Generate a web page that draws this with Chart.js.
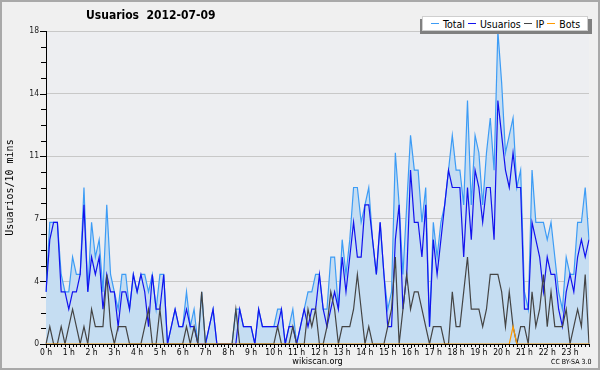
<!DOCTYPE html>
<html lang="es">
<head>
<meta charset="UTF-8">
<title>Usuarios 2012-07-09</title>
<script src="https://cdn.jsdelivr.net/npm/chart.js"></script>
<style>
  html, body { margin: 0; padding: 0; background: #f0f0f0; }
  #wrap { position: relative; width: 600px; height: 370px; font-family: "DejaVu Sans Condensed", "DejaVu Sans", sans-serif; }
  #frame { position: absolute; left: 0; top: 0; width: 600px; height: 370px; box-sizing: border-box;
           border: 2px solid #a9a9a9; pointer-events: none; }
  #title { position: absolute; left: 86px; top: 8px; font-size: 12px; font-weight: bold; color: #000; white-space: pre; }
  #legend-shadow { position: absolute; left: 420px; top: 19px; width: 172px; height: 15px; background: #808080; }
  #legend { position: absolute; left: 422px; top: 16px; width: 166px; height: 15px; background: #fff;
            border: 1px solid #cfcfcf; display: flex; align-items: center;
            font-size: 10.5px; color: #000; padding-left: 8px; box-sizing: border-box; white-space: nowrap; }
  #legend span { display: inline-flex; align-items: center; margin-right: 3px; }
  #legend i { display: inline-block; width: 8px; height: 1px; margin-right: 4px; }
  #cc { position: absolute; left: 551px; top: 358px; font-size: 7px; color: #000; }
</style>
</head>
<body>
<div id="wrap">
  <canvas id="chart" width="600" height="370"></canvas>
  <div id="title"></div>
  <div id="legend-shadow"></div>
  <div id="legend"></div>
  <div id="cc">CC BY-SA 3.0</div>
  <div id="frame"></div>
</div>

<script>
  const chartTitle = 'Usuarios  2012-07-09';
  const hourLabels = ['0 h', '1 h', '2 h', '3 h', '4 h', '5 h', '6 h', '7 h', '8 h', '9 h', '10 h', '11 h',
                      '12 h', '13 h', '14 h', '15 h', '16 h', '17 h', '18 h', '19 h', '20 h', '21 h', '22 h', '23 h'];
  const minuteLabels = ['00', '10', '20', '30', '40', '50'];
  const yTicks = [0, 3.6, 7.2, 10.8, 14.4, 18];
  const seriesNames = ['Total', 'Usuarios', 'IP', 'Bots'];

  // one value every 10 minutes, 144 per day
  const totalVals = [
    3, 7, 7, 7, 4, 3, 3, 5, 4, 4, 9, 3, 7, 5, 6, 3, 8, 4, 3, 2, 4, 4, 2, 4,
    3, 4, 4, 3, 4, 2, 4, 4, 0, 1, 2, 1, 1, 3, 1, 2, 0, 3, 0, 1, 2, 0, 0, 0,
    0, 0, 2, 2, 1, 1, 1, 0, 2, 1, 1, 1, 1, 2, 2, 0, 1, 2, 0, 1, 2, 3, 3, 4,
    4, 2, 2, 5, 5, 2, 6, 4, 6, 9, 9, 7, 8, 9, 6, 4, 7, 4, 2, 3, 11, 8, 4, 8,
    12, 10, 10, 7, 9, 1, 7, 5, 7, 8, 10, 12, 10, 10, 8, 14, 8, 12, 11, 8, 11, 13, 10, 18,
    15, 11, 12, 13, 9, 10, 3, 2, 10, 7, 7, 7, 6, 7, 5, 3, 2, 5, 4, 4, 7, 7, 9, 6
  ];
  const usuariosVals = [
    3, 6, 7, 7, 3, 3, 2, 3, 3, 4, 8, 3, 5, 4, 5, 2, 4, 3, 3, 1, 3, 3, 2, 4,
    3, 4, 3, 1, 4, 2, 2, 4, 0, 1, 2, 1, 1, 2, 1, 1, 0, 0, 0, 1, 2, 0, 0, 0,
    0, 0, 0, 2, 1, 1, 1, 0, 2, 1, 1, 1, 1, 1, 2, 0, 1, 1, 0, 1, 2, 1, 2, 2,
    4, 2, 1, 2, 3, 2, 5, 3, 5, 7, 5, 5, 8, 8, 6, 4, 7, 4, 1, 1, 6, 8, 2, 4,
    10, 7, 7, 5, 8, 1, 6, 4, 6, 8, 10, 9, 9, 9, 5, 9, 6, 10, 9, 7, 9, 9, 6, 14,
    12, 10, 9, 11, 9, 9, 2, 2, 7, 6, 5, 3, 5, 4, 4, 2, 1, 3, 4, 3, 5, 6, 5, 6
  ];
  const ipVals = [
    0, 1, 0, 0, 1, 0, 1, 2, 1, 0, 1, 0, 2, 1, 1, 1, 4, 1, 0, 1, 1, 1, 0, 0,
    0, 0, 1, 2, 0, 0, 2, 0, 0, 0, 0, 0, 0, 1, 0, 1, 0, 3, 0, 0, 0, 0, 0, 0,
    0, 0, 2, 0, 0, 0, 0, 0, 0, 0, 0, 0, 0, 1, 0, 0, 0, 1, 0, 0, 0, 2, 1, 2,
    0, 0, 1, 3, 2, 0, 1, 1, 1, 2, 4, 2, 0, 1, 0, 0, 0, 0, 1, 2, 5, 0, 2, 4,
    2, 3, 3, 2, 1, 0, 1, 1, 1, 0, 0, 3, 1, 1, 3, 5, 2, 2, 2, 1, 2, 4, 4, 4,
    3, 1, 3, 1, 0, 1, 1, 0, 3, 1, 2, 4, 1, 3, 1, 1, 1, 2, 0, 1, 2, 1, 4, 0
  ];
  const botsVals = [
    0, 0, 0, 0, 0, 0, 0, 0, 0, 0, 0, 0, 0, 0, 0, 0, 0, 0, 0, 0, 0, 0, 0, 0,
    0, 0, 0, 0, 0, 0, 0, 0, 0, 0, 0, 0, 0, 0, 0, 0, 0, 0, 0, 0, 0, 0, 0, 0,
    0, 0, 0, 0, 0, 0, 0, 0, 0, 0, 0, 0, 0, 0, 0, 0, 0, 0, 0, 0, 0, 0, 0, 0,
    0, 0, 0, 0, 0, 0, 0, 0, 0, 0, 0, 0, 0, 0, 0, 0, 0, 0, 0, 0, 0, 0, 0, 0,
    0, 0, 0, 0, 0, 0, 0, 0, 0, 0, 0, 0, 0, 0, 0, 0, 0, 0, 0, 0, 0, 0, 0, 0,
    0, 0, 0, 1, 0, 0, 0, 0, 0, 0, 0, 0, 0, 0, 0, 0, 0, 0, 0, 0, 0, 0, 0, 0
  ];

  const colors = ['#3d9cf5', '#1212ee', '#444444', '#ff9a00'];
  const condensed = "'DejaVu Sans Condensed', 'DejaVu Sans'";

  const slots = [];
  hourLabels.forEach((h, hi) => minuteLabels.forEach(m => slots.push(hi + ':' + m)));

  document.getElementById('title').textContent = chartTitle;
  const legendEl = document.getElementById('legend');
  seriesNames.forEach((name, i) => {
    const s = document.createElement('span');
    s.innerHTML = '<i style="background:' + colors[i] + '"></i>' + name;
    legendEl.appendChild(s);
  });

  // plot background + tick marks like the original
  const decor = {
    id: 'decor',
    beforeDraw(chart) {
      const { ctx, chartArea: a } = chart;
      ctx.save();
      ctx.fillStyle = '#edeef1';
      ctx.fillRect(a.left, a.top, a.right - a.left, a.bottom - a.top);
      ctx.restore();
    },
    afterDraw(chart) {
      const { ctx } = chart;
      const xs = chart.scales.x, ys = chart.scales.y;
      ctx.save();
      ctx.strokeStyle = '#000';
      ctx.lineWidth = 1;
      ctx.beginPath();
      for (let i = 0; i < slots.length; i++) {
        const x = Math.round(xs.getPixelForValue(i)) + 0.5;
        const len = i % 6 === 0 ? 4 : 3;
        ctx.moveTo(x, ys.bottom);
        ctx.lineTo(x, ys.bottom + len);
      }
      // minor ticks: 4 per major step
      for (let k = 0; k <= 20; k++) {
        const y = Math.round(ys.getPixelForValue(k * 0.9)) + 0.5;
        ctx.moveTo(xs.left - 5, y);
        ctx.lineTo(xs.left, y);
      }
      yTicks.forEach(v => {
        const y = Math.round(ys.getPixelForValue(v)) + 0.5;
        ctx.moveTo(xs.left - 6, y);
        ctx.lineTo(xs.left, y);
      });
      ctx.stroke();
      ctx.restore();
    }
  };

  new Chart(document.getElementById('chart'), {
    type: 'line',
    data: {
      labels: slots,
      datasets: [
        { label: seriesNames[0], data: totalVals, borderColor: colors[0], backgroundColor: '#c5ddf2', fill: 'origin', order: 4 },
        { label: seriesNames[1], data: usuariosVals, borderColor: colors[1], fill: false, order: 3 },
        { label: seriesNames[2], data: ipVals, borderColor: colors[2], fill: false, order: 2 },
        { label: seriesNames[3], data: botsVals, borderColor: colors[3], fill: false, order: 1 }
      ]
    },
    options: {
      responsive: false,
      animation: false,
      layout: { padding: { top: 31, right: 11, left: 0, bottom: 0 } },
      elements: {
        point: { radius: 0 },
        line: { tension: 0, borderWidth: 1.2 }
      },
      plugins: {
        legend: { display: false },
        title: { display: false },
        tooltip: { enabled: false }
      },
      scales: {
        x: {
          offset: false,
          grid: { display: false, drawTicks: false, tickLength: 0 },
          border: { color: '#000', width: 1 },
          ticks: {
            autoSkip: false,
            maxRotation: 0,
            padding: 4,
            color: '#000',
            font: { family: condensed, size: 8.5 },
            callback: (v, i) => (i % 6 === 0 ? hourLabels[i / 6] : '')
          },
          title: {
            display: true,
            text: 'wikiscan.org',
            color: '#000',
            font: { family: condensed, size: 9 },
            padding: { top: 0, bottom: 3 }
          },
          afterFit: s => { s.height = 26; }
        },
        y: {
          min: 0,
          max: 18,
          afterBuildTicks: s => { s.ticks = yTicks.map(v => ({ value: v })); },
          grid: { color: '#c8c8c8', drawTicks: false },
          border: { color: '#000', width: 1 },
          ticks: {
            padding: 7,
            color: '#222',
            font: { family: condensed, size: 8.5 },
            callback: v => Math.round(v)
          },
          title: {
            display: true,
            text: 'Usuarios/10 mins',
            color: '#000',
            font: { family: 'DejaVu Sans Mono', size: 10 },
            padding: { top: 4, bottom: 0 }
          },
          afterFit: s => { s.width = 46; }
        }
      }
    },
    plugins: [decor]
  });
</script>
</body>
</html>
